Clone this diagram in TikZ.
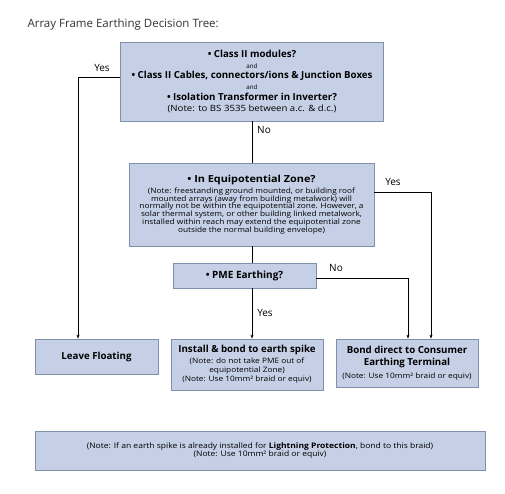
\documentclass[tikz,border=0pt]{standalone}
\usepackage{fontspec}
\setmainfont{Open Sans}
\newfontfamily\widefont[FakeStretch=1.12]{Open Sans}
\usetikzlibrary{arrows.meta}
\definecolor{boxfill}{RGB}{197,208,230}
\definecolor{boxline}{RGB}{128,143,172}
\newcommand{\bigq}{\fontsize{9.7}{10.8}\selectfont\bfseries}
\newcommand{\andtxt}{\fontsize{6.2}{7}\selectfont\mdseries}
\newcommand{\notetxt}{\widefont\fontsize{7.4}{7.8}\selectfont\mdseries}
\begin{document}
\begin{tikzpicture}[x=1pt,y=-1pt,
  box/.style={draw=boxline,fill=boxfill,line width=0.8pt,align=center,inner sep=2pt},
  conn/.style={line width=0.7pt},
  arr/.style={conn,-{Stealth[length=4pt,width=3pt]}},
  lbl/.style={font=\fontsize{10}{12}\selectfont}]
\useasboundingbox (0,0) rectangle (505,494);
\node[anchor=west,font=\fontsize{11.5}{13}\selectfont,text=black!80] (title) at (24,25) {Array Frame Earthing Decision Tree:};

\node[box,minimum width=263pt,minimum height=79pt,font=\fontsize{9.7}{10.8}\selectfont] (q1) at (252,81.5)
 {{\bigq • Class II modules?}\\
  {\andtxt and}\\
  {\bigq • Class II Cables, connectors/ions \& Junction Boxes}\\
  {\andtxt and}\\
  {\bigq • Isolation Transformer in Inverter?}\\[0.5pt]
  {\widefont\fontsize{8.6}{9}\selectfont (Note: to BS 3535 between a.c. \& d.c.)}};

\node[box,minimum width=245pt,minimum height=83pt,font=\notetxt] (q2) at (251.5,204.5)
 {{\bigq • In Equipotential Zone?}\\[2pt]
  (Note: freestanding ground mounted, or building roof\\
  mounted arrays (away from building metalwork) will\\
  normally not be within the equipotential zone. However, a\\
  solar thermal system, or other building linked metalwork,\\
  installed within reach may extend the equipotential zone\\
  outside the normal building envelope)};

\node[box,minimum width=143pt,minimum height=25pt,font=\fontsize{10}{12}\selectfont\bfseries] (q3) at (244.5,275.5) {• PME Earthing?};

\node[box,minimum width=123pt,minimum height=35pt,font=\bigq] (leave) at (96.5,356.5) {Leave Floating};

\node[box,minimum width=152pt,minimum height=51pt,font=\fontsize{7.6}{9.4}\selectfont] (spike) at (247,364.5)
 {{\bigq Install \& bond to earth spike}\\[1pt]
  {\notetxt (Note: do not take PME out of}\\
  {\notetxt equipotential Zone)}\\
  {\notetxt (Note: Use 10mm² braid or equiv)}};

\node[box,minimum width=142pt,minimum height=48pt,font=\fontsize{9.7}{12.5}\selectfont] (bond) at (407,363)
 {{\bigq Bond direct to Consumer}\\
  {\bigq Earthing Terminal}\\
  {\notetxt (Note: Use 10mm² braid or equiv)}};

\node[box,minimum width=450pt,minimum height=39pt,font=\notetxt\fontsize{7.6}{8.3}\selectfont] (foot) at (260,450.5)
 {(Note: If an earth spike is already installed for \textbf{Lightning Protection}, bond to this braid)\\
  (Note: Use 10mm² braid or equiv)};

% connectors
\draw[conn] (q1.south -| 252,0) -- (q2.north -| 252,0);
\draw[conn] (q2.south -| 252,0) -- (q3.north -| 252,0);
\draw[arr] (q1.west |- 0,77) -- (78,77) -- (leave.north -| 78,0);
\draw[arr] (q2.east |- 0,192) -- (431,192) -- (bond.north -| 431,0);
\draw[arr] (q3.east |- 0,278) -- (408,278) -- (bond.north -| 408,0);
\draw[arr] (q3.south -| 252,0) -- (spike.north -| 252,0);

% labels
\node[lbl] (l1) at (102,68) {Yes};
\node[lbl] (l2) at (264,130) {No};
\node[lbl] (l3) at (393,182) {Yes};
\node[lbl] (l4) at (336,268) {No};
\node[lbl] (l5) at (265,313) {Yes};
\end{tikzpicture}
\end{document}
